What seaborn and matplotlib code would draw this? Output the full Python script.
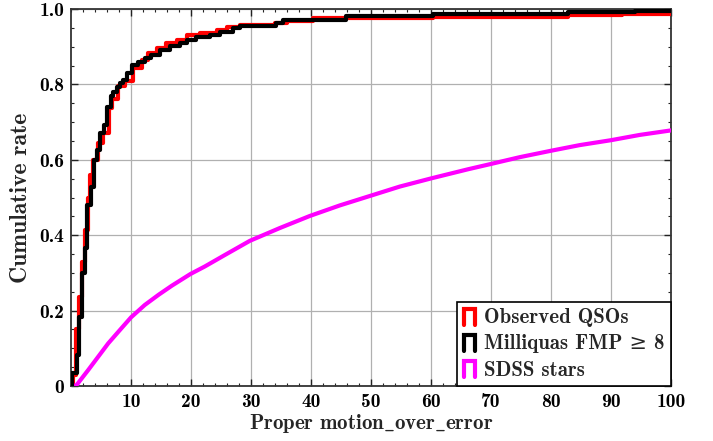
import matplotlib
matplotlib.use("Agg")
import matplotlib.pyplot as plt
from matplotlib.lines import Line2D
from matplotlib.legend_handler import HandlerBase
from matplotlib.ticker import MultipleLocator, FixedLocator, FixedFormatter
import seaborn as sns
import pandas as pd

# ---- data ----
qso_x = [0, 0.3, 0.9, 1.4, 1.85, 2.3, 2.9, 3.1, 3.7, 4.5, 5.3, 6.3, 6.9, 7.8, 9.0,
         10.4, 11.8, 12.9, 14.3, 15.9, 17.6, 19.3, 21.5, 24.3, 26.0, 28.2, 34.0,
         36.0, 40.3, 60.3, 82.9, 91.8, 100]
qso_y = [0, 0.03, 0.15, 0.237, 0.33, 0.414, 0.499, 0.56, 0.60, 0.645, 0.67, 0.738,
         0.76, 0.795, 0.81, 0.843, 0.865, 0.883, 0.896, 0.909, 0.918, 0.931, 0.936,
         0.943, 0.953, 0.958, 0.962, 0.967, 0.976, 0.980, 0.983, 0.987, 0.987]

mq_x = [0, 0.2, 1.05, 1.4, 1.9, 2.4, 2.7, 3.3, 3.9, 4.3, 4.8, 5.5, 6.05, 6.6, 6.95,
        7.6, 8.1, 8.7, 9.3, 10.1, 11.2, 12.3, 13.4, 14.8, 16.5, 18.2, 19.3, 20.9,
        23.2, 24.8, 27.0, 28.2, 34.2, 35.4, 45.9, 60.3, 82.9, 94.0, 100]
mq_y = [0, 0.034, 0.082, 0.184, 0.299, 0.365, 0.48, 0.529, 0.60, 0.626, 0.67, 0.692,
        0.741, 0.768, 0.781, 0.794, 0.805, 0.812, 0.83, 0.852, 0.86, 0.869, 0.878,
        0.891, 0.902, 0.909, 0.918, 0.927, 0.931, 0.94, 0.949, 0.955, 0.962, 0.971,
        0.981, 0.987, 0.991, 0.996, 0.996]

star_x = [0.5, 0.95, 2.9, 4.55, 6.2, 7.9, 10, 12.3, 14.6, 16.8, 19.9, 22.3, 25.7, 29.8,
          34.8, 39.8, 44.8, 49.8, 54.8, 60.1, 66.2, 70, 74.8, 80, 84.8, 90, 94.8, 100]
star_y = [0, 0.003, 0.043, 0.078, 0.113, 0.144, 0.182, 0.215, 0.242, 0.266, 0.297,
          0.317, 0.348, 0.385, 0.419, 0.451, 0.479, 0.504, 0.529, 0.551, 0.575, 0.589,
          0.607, 0.624, 0.639, 0.652, 0.666, 0.678]

labels = ["Observed QSOs", "Milliquas FMP \u2265 8", "SDSS stars"]
colors = ["#ff0000", "#000000", "#ff00ff"]
x_ticks = [10, 20, 30, 40, 50, 60, 70, 80, 90, 100]
y_ticks = [0, 0.2, 0.4, 0.6, 0.8, 1.0]
y_ticklabels = ["0", "0.2", "0.4", "0.6", "0.8", "1.0"]
x_label = r"Proper motion$\_$over$\_$error"
y_label = "Cumulative rate"

# ---- style ----
sns.set_style("ticks")
plt.rcParams["font.family"] = ["cmb10", "DejaVu Serif"]
plt.rcParams["mathtext.fontset"] = "cm"
plt.rcParams["axes.unicode_minus"] = False

fig = plt.figure(figsize=(7.13, 4.41), dpi=100)
ax = fig.add_axes([71 / 713, 1 - 386 / 441, 600 / 713, 377 / 441])

df_q = pd.DataFrame({"x": qso_x, "y": qso_y})
df_m = pd.DataFrame({"x": mq_x, "y": mq_y})
df_s = pd.DataFrame({"x": star_x, "y": star_y})

sns.lineplot(data=df_q, x="x", y="y", ax=ax, color=colors[0], lw=3.0,
             drawstyle="steps-post", sort=False, estimator=None, zorder=3)
sns.lineplot(data=df_m, x="x", y="y", ax=ax, color=colors[1], lw=3.0,
             drawstyle="steps-post", sort=False, estimator=None, zorder=4)
sns.lineplot(data=df_s, x="x", y="y", ax=ax, color=colors[2], lw=3.0,
             sort=False, estimator=None, zorder=3)

ax.set_xlim(0, 100)
ax.set_ylim(0, 1.0)
ax.xaxis.set_major_locator(FixedLocator(x_ticks))
ax.xaxis.set_minor_locator(MultipleLocator(2))
ax.yaxis.set_major_locator(FixedLocator(y_ticks))
ax.yaxis.set_major_formatter(FixedFormatter(y_ticklabels))
ax.yaxis.set_minor_locator(MultipleLocator(0.05))
ax.tick_params(which="both", direction="in", top=True, right=True, colors="#222222",
               labelcolor="black", labelsize=14, pad=5)
ax.tick_params(which="major", length=5, width=1)
ax.tick_params(which="minor", length=2.5, width=0.8)
ax.grid(True, which="major", color="#b0b0b0", lw=0.9)
for s in ax.spines.values():
    s.set_color("#333333")
    s.set_linewidth(1.3)

ax.set_xlabel(x_label, fontsize=15, labelpad=1)
ax.set_ylabel(y_label, fontsize=17, labelpad=5)


class PiHandler(HandlerBase):
    def create_artists(self, legend, orig_handle, xdescent, ydescent, width, height,
                       fontsize, trans):
        x0, y0 = -xdescent, -ydescent - 0.1 * height
        x1, y1 = x0 + width, y0 + height * 1.1
        ln = Line2D([x0, x0, x1, x1], [y0, y1, y1, y0], color=orig_handle.get_color(),
                    lw=3.0, solid_joinstyle="miter", transform=trans)
        return [ln]


handles = [Line2D([], [], color=c) for c in colors]
leg = ax.legend(handles, labels, loc="lower right", borderaxespad=0, fontsize=15,
                handler_map={Line2D: PiHandler()}, handlelength=0.55,
                handletextpad=0.45, labelspacing=0.35, frameon=True, fancybox=False,
                borderpad=0.3)
leg.get_frame().set_edgecolor("black")
leg.get_frame().set_linewidth(1.2)
leg.get_frame().set_alpha(1)
leg.set_zorder(10)

fig.savefig("out.png", dpi=100)
